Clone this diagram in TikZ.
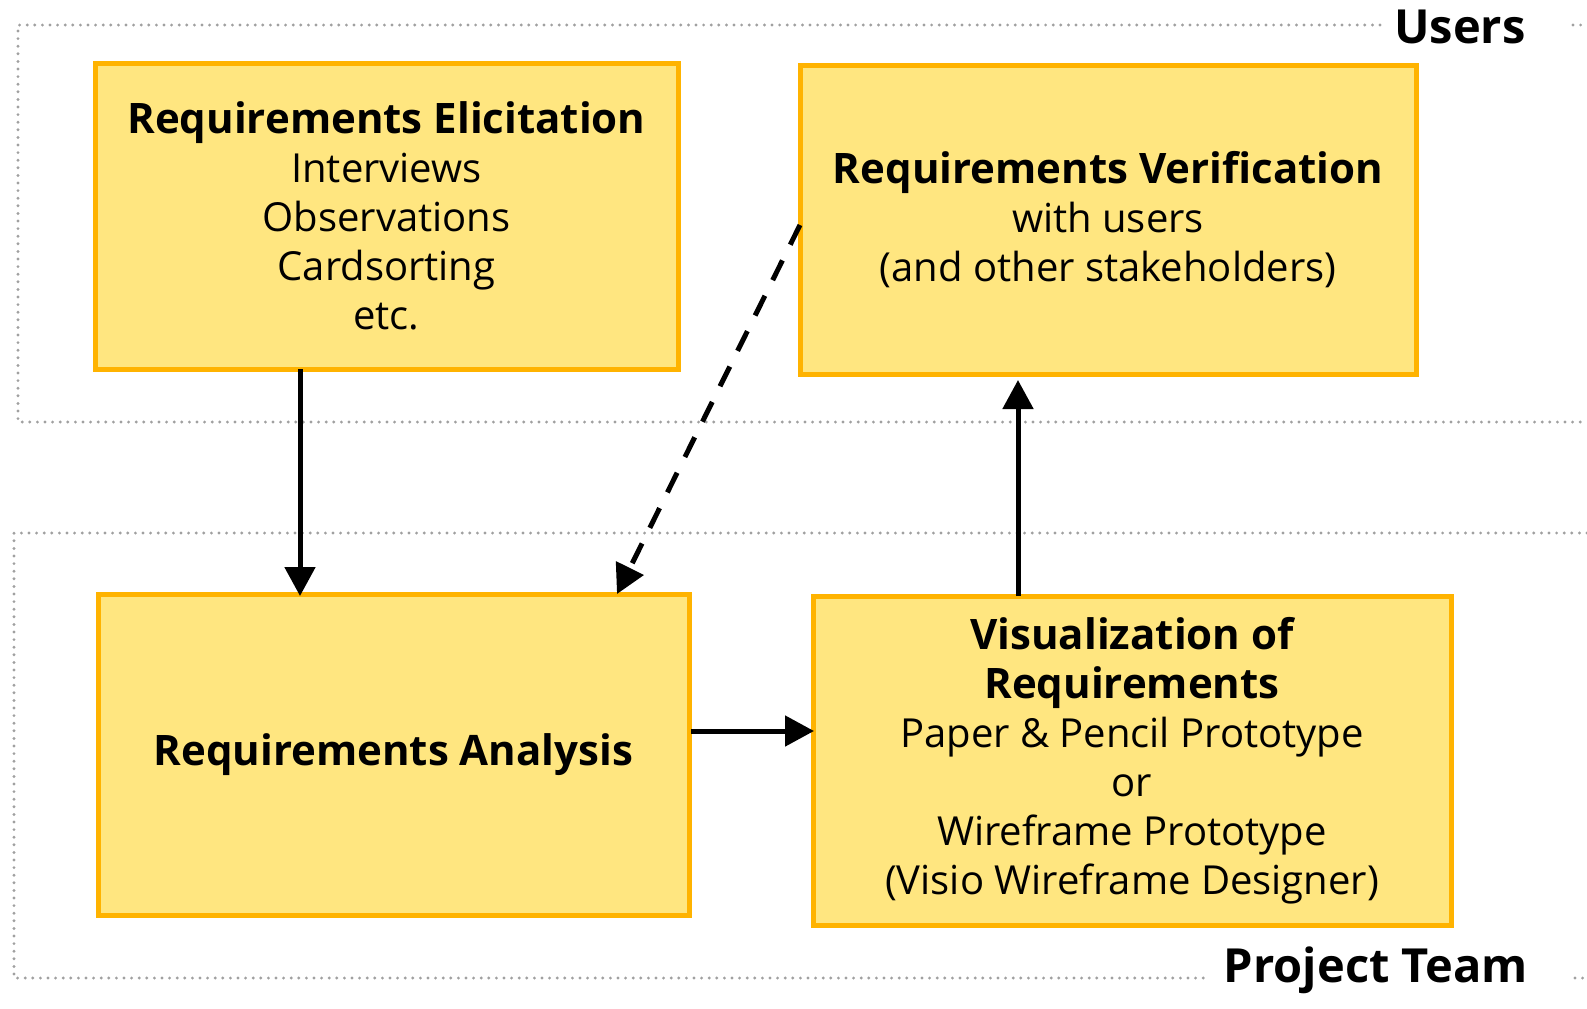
\documentclass[tikz,border=0pt]{standalone}
\usepackage{fontspec}
\setmainfont{Open Sans}
\usetikzlibrary{arrows.meta}
\definecolor{boxfill}{HTML}{FFE680}
\definecolor{boxline}{HTML}{FFB300}
\definecolor{dotgray}{HTML}{A0A0A0}
\newcommand{\ttl}[1]{{\fontsize{21}{24.5}\selectfont\bfseries #1}}
\tikzset{
  reqbox/.style={draw=boxline, fill=boxfill, line width=2.5pt, inner sep=0pt, align=center,
    font=\fontsize{20}{24.5}\selectfont},
  frameline/.style={draw=dotgray, line width=1.6pt, line cap=round, dash pattern=on 0pt off 3.8pt},
  flowarrow/.style={line width=2.5pt, -{Triangle[length=14.5pt,width=15pt]}},
  framelabel/.style={font=\fontsize{23.5}{27}\selectfont\bfseries, inner sep=0pt}
}
\begin{document}
\begin{tikzpicture}[x=0.5pt,y=-0.5pt]
\useasboundingbox (0,0) rectangle (1587,1008);
% frames
\draw[frameline] (1380,25) -- (18,25) -- (18,422) -- (1587,422);
\draw[frameline] (1573,25) -- (1587,25);
\draw[frameline] (1587,533) -- (14,533) -- (14,978) -- (1208,978);
\draw[frameline] (1575,978) -- (1587,978);
\node[framelabel] (users) at (1460,27) {Users};
\node[framelabel] (team) at (1376,970) {Project Team};
% boxes
\node[reqbox, minimum width=291.5pt, minimum height=153pt] (elic) at (386.5,216)
  {\ttl{Requirements Elicitation}\\Interviews\\Observations\\Cardsorting\\etc.};
\node[reqbox, minimum width=308pt, minimum height=154.5pt] (verif) at (1108,219.5)
  {\ttl{Requirements Verification}\\with users\\(and other stakeholders)};
\node[reqbox, minimum width=295.5pt, minimum height=160.5pt] (anal) at (393.5,754.5)
  {\ttl{Requirements Analysis}};
\node[reqbox, minimum width=319pt, minimum height=164.5pt] (visu) at (1132,760.5)
  {\ttl{Visualization of}\\\ttl{Requirements}\\Paper \& Pencil Prototype\\or\\Wireframe Prototype\\(Visio Wireframe Designer)};
% arrows
\coordinate (e1) at (300,369);
\coordinate (a1) at (300,596);
\draw[flowarrow] (e1) -- (a1);
\coordinate (v1) at (800,225);
\coordinate (a2) at (617,594);
\draw[flowarrow, dash pattern=on 11pt off 8.75pt] (v1) -- (a2);
\coordinate (a3) at (691,731);
\coordinate (w1) at (814,731);
\draw[flowarrow] (a3) -- (w1);
\coordinate (w2) at (1018,596);
\coordinate (v2) at (1018,380);
\draw[flowarrow] (w2) -- (v2);
\end{tikzpicture}
\end{document}
